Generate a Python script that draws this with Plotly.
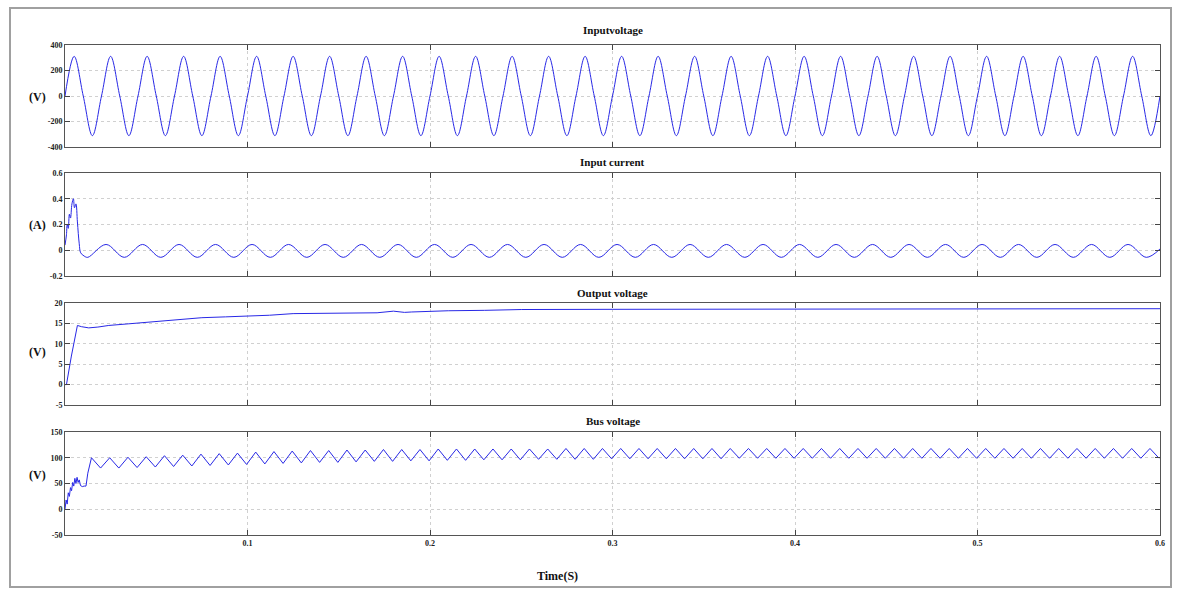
import plotly.graph_objects as go

# ---------------- data ----------------
# Input voltage: 50 Hz sine, peak / trough values per cycle (V)
vin_period = 0.02
vin_peaks = [311, 311, 311, 311, 311, 311, 311, 311, 311, 311,
             311, 311, 311, 311, 311, 311, 311, 311, 311, 311,
             311, 311, 311, 311, 311, 311, 311, 311, 311, 311]
vin_troughs = [-311, -311, -311, -311, -311, -311, -311, -311, -311, -311,
               -311, -311, -311, -311, -311, -311, -311, -311, -311, -311,
               -311, -311, -311, -311, -311, -311, -311, -311, -311, -311]

# Input current: start-up spike then a small 50 Hz ripple (A)
cur_start_t = [0, 0.0008, 0.0012, 0.0018, 0.0024, 0.003, 0.0038, 0.0046,
               0.0052, 0.006, 0.0068, 0.0078, 0.0086, 0.0105, 0.0125]
cur_start_v = [0.04, 0.12, 0.2, 0.17, 0.28, 0.25, 0.36, 0.40,
               0.33, 0.36, 0.22, 0.05, -0.02, -0.045, -0.055]
cur_first_peak = 0.0225
cur_peaks = [0.045, 0.045, 0.045, 0.045, 0.045, 0.045, 0.045, 0.045, 0.045, 0.045,
             0.045, 0.045, 0.045, 0.045, 0.045, 0.045, 0.045, 0.045, 0.045, 0.045,
             0.045, 0.045, 0.045, 0.045, 0.045, 0.045, 0.045, 0.045, 0.045]
cur_troughs = [-0.055, -0.055, -0.055, -0.055, -0.055, -0.055, -0.055, -0.055, -0.055, -0.055,
               -0.055, -0.055, -0.055, -0.055, -0.055, -0.055, -0.055, -0.055, -0.055, -0.055,
               -0.055, -0.055, -0.055, -0.055, -0.055, -0.055, -0.055, -0.055, -0.055]
cur_end_t = 0.6
cur_end_v = 0.01

# Output voltage (V)
vout_t = [0, 0.0008, 0.0035, 0.0068, 0.009, 0.013, 0.018, 0.024, 0.035, 0.052,
          0.065, 0.075, 0.088, 0.1, 0.112, 0.125, 0.14, 0.155, 0.171, 0.18,
          0.186, 0.19, 0.195, 0.2, 0.21, 0.23, 0.25, 0.3, 0.35, 0.4,
          0.45, 0.5, 0.55, 0.6]
vout_v = [0, 0, 7, 14.5, 14.2, 13.9, 14.1, 14.5, 14.9, 15.6,
          16.0, 16.4, 16.6, 16.8, 17.0, 17.4, 17.5, 17.6, 17.6, 18.0,
          17.7, 17.8, 17.9, 18.0, 18.1, 18.2, 18.4, 18.45, 18.5, 18.5,
          18.55, 18.55, 18.6, 18.6]

# Bus voltage: start-up then 100 Hz ripple (V)
bus_start_t = [0, 0.0006, 0.0012, 0.0018, 0.0024, 0.003, 0.0036, 0.0042, 0.0048,
               0.0054, 0.006, 0.0066, 0.0072, 0.0078, 0.0085, 0.0095, 0.0105,
               0.0115, 0.0125]
bus_start_v = [0, 18, 10, 32, 25, 42, 36, 52, 45,
               60, 50, 62, 52, 57, 46, 44, 45,
               45, 70]
bus_first_peak = 0.0145
bus_period = 0.01
bus_peaks = [100, 100, 101, 102, 104, 105, 107, 108, 109, 111,
             112, 113, 114, 114, 115, 115, 116, 116, 116, 117,
             117, 117, 117, 117, 117, 117, 118, 118, 118, 118,
             118, 118, 118, 118, 118, 118, 118, 118, 118, 118,
             118, 118, 118, 118, 118, 118, 118, 118, 118, 118,
             118, 118, 118, 118, 118, 118, 118, 118, 118]
bus_troughs = [80, 80, 81, 82, 83, 84, 85, 86, 87, 88,
               89, 90, 91, 91, 92, 93, 93, 94, 94, 95,
               95, 96, 96, 96, 97, 97, 97, 97, 98, 98,
               98, 98, 98, 98, 98, 99, 99, 99, 99, 99,
               99, 99, 99, 99, 99, 99, 99, 99, 99, 99,
               99, 99, 99, 99, 99, 99, 99, 99, 99]

titles = ["Inputvoltage", "Input current", "Output voltage", "Bus voltage"]
ylabels = ["(V)", "(A)", "(V)", "(V)"]
y_ticks = [[-400, -200, 0, 200, 400],
           [-0.2, 0, 0.2, 0.4, 0.6],
           [-5, 0, 5, 10, 15, 20],
           [-50, 0, 50, 100, 150]]
x_ticks = [0.1, 0.2, 0.3, 0.4, 0.5, 0.6]
x_tick_labels = ["0.1", "0.2", "0.3", "0.4", "0.5", "0.6"]

# ---------------- build vertex lists ----------------
vin_t, vin_v = [], []
for k, (p, q) in enumerate(zip(vin_peaks, vin_troughs)):
    base = k * vin_period
    vin_t += [base, base + vin_period / 4, base + vin_period / 2, base + 3 * vin_period / 4]
    vin_v += [0, p, 0, q]
vin_t.append(len(vin_peaks) * vin_period)
vin_v.append(0)

cur_t, cur_v = list(cur_start_t), list(cur_start_v)
for k, (p, q) in enumerate(zip(cur_peaks, cur_troughs)):
    cur_t += [cur_first_peak + k * vin_period, cur_first_peak + k * vin_period + vin_period / 2]
    cur_v += [p, q]
cur_t.append(cur_end_t)
cur_v.append(cur_end_v)

bus_t, bus_v = list(bus_start_t), list(bus_start_v)
for k, (p, q) in enumerate(zip(bus_peaks, bus_troughs)):
    bus_t += [bus_first_peak + k * bus_period, bus_first_peak + k * bus_period + bus_period / 2]
    bus_v += [p, q]

# ---------------- figure ----------------
W, H = 1180, 590
L, R, T, B = 65, 20, 45, 55
ph = H - T - B
panel_px = [(45, 147), (173, 276), (303, 405), (432, 535)]
domains = [[(H - B - b) / ph, (H - B - t) / ph] for (t, b) in panel_px]

line_col = "rgb(40,40,230)"
fig = go.Figure()
series = [(vin_t, vin_v, "spline"), (cur_t, cur_v, "spline"),
          (vout_t, vout_v, "linear"), (bus_t, bus_v, "linear")]
for i, (tx, vy, shape) in enumerate(series):
    ax = "" if i == 0 else str(i + 1)
    ln = dict(color=line_col, width=1, shape=shape)
    fig.add_trace(go.Scatter(x=tx, y=vy, mode="lines", line=ln,
                             xaxis="x" + ax, yaxis="y" + ax, showlegend=False,
                             hoverinfo="skip"))

font_fam = "Liberation Serif, Times New Roman, serif"
layout = dict(width=W, height=H, margin=dict(l=L, r=R, t=T, b=B),
              paper_bgcolor="white", plot_bgcolor="white",
              font=dict(family=font_fam, color="#222"))
for i in range(4):
    ax = "" if i == 0 else str(i + 1)
    yr = [y_ticks[i][0], y_ticks[i][-1]]
    layout["xaxis" + ax] = dict(
        domain=[0, 1], range=[0, 0.6], anchor="y" + ax,
        tickvals=x_ticks,
        ticktext=["<b>" + s + "</b>" for s in x_tick_labels] if i == 3 else [""] * 6,
        ticks="inside", ticklen=5, tickcolor="#444", mirror="allticks",
        showline=True, linecolor="#555", linewidth=1,
        showgrid=True, gridcolor="#d0d0d0", griddash="dot", gridwidth=1,
        zeroline=False, tickfont=dict(size=8, family=font_fam, color="#222"),
        matches=None if i == 0 else "x")
    layout["yaxis" + ax] = dict(
        domain=domains[i], range=yr, anchor="x" + ax,
        tickvals=y_ticks[i], ticktext=["<b>" + str(v) + "</b>" for v in y_ticks[i]],
        ticks="inside", ticklen=5, tickcolor="#444", mirror="allticks",
        showline=True, linecolor="#555", linewidth=1,
        showgrid=True, gridcolor="#d0d0d0", griddash="dot", gridwidth=1,
        zeroline=False, tickfont=dict(size=8, family=font_fam, color="#222"))
fig.update_layout(**layout)

def px_x(x):
    return (x - L) / (W - L - R)

def px_y(y):
    return (H - B - y) / ph

title_y = [30, 162, 293, 421]
ylabel_y = [97, 225, 352, 475]
ann = []
for i in range(4):
    ann.append(dict(text="<b>" + titles[i] + "</b>", x=0.5, y=px_y(title_y[i]),
                    xref="paper", yref="paper", showarrow=False,
                    font=dict(size=11, family=font_fam, color="#111"),
                    xanchor="center", yanchor="middle"))
    ann.append(dict(text="<b>" + ylabels[i] + "</b>", x=px_x(37), y=px_y(ylabel_y[i]),
                    xref="paper", yref="paper", showarrow=False,
                    font=dict(size=12, family=font_fam, color="#111"),
                    xanchor="center", yanchor="middle"))
ann.append(dict(text="<b>Time(S)</b>", x=px_x(557), y=px_y(576),
                xref="paper", yref="paper", showarrow=False,
                font=dict(size=12, family=font_fam, color="#111"),
                xanchor="center", yanchor="middle"))
fig.update_layout(annotations=ann)

fig.add_shape(type="rect", xref="paper", yref="paper",
              x0=px_x(10), x1=px_x(1171), y0=px_y(587), y1=px_y(8),
              line=dict(color="#a0a0a0", width=2), fillcolor="rgba(0,0,0,0)")

fig.write_html("out.html")
